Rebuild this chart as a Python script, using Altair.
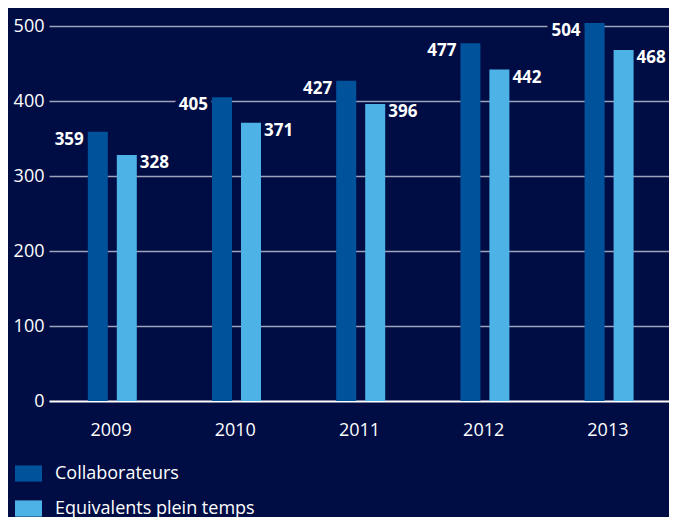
import altair as alt
import pandas as pd

years = ["2009", "2010", "2011", "2012", "2013"]
collaborateurs = [359, 405, 427, 477, 504]
equivalents = [328, 371, 396, 442, 468]
series = ["Collaborateurs", "Equivalents plein temps"]
colors = ["#00529b", "#4db3e6"]

rows = []
for i, yr in enumerate(years):
    rows.append({"annee": yr, "serie": series[0], "valeur": collaborateurs[i]})
    rows.append({"annee": yr, "serie": series[1], "valeur": equivalents[i]})
df = pd.DataFrame(rows)

FONT = "Open Sans"
BG = "#000d45"
GRID = "#9ea2bb"

x = alt.X(
    "annee:N",
    sort=years,
    scale=alt.Scale(range=[-6, 615], paddingInner=0, paddingOuter=0),
    axis=alt.Axis(
        title=None, labelAngle=0, ticks=False, domain=False, labelPadding=20,
        labelFont=FONT, labelFontSize=18, labelColor="white", grid=False,
    ),
)
xoff = alt.XOffset(
    "serie:N", sort=series,
    scale=alt.Scale(range=[38.8, 87.8], paddingInner=0.3103, paddingOuter=0),
)
y = alt.Y(
    "valeur:Q",
    scale=alt.Scale(domain=[0, 500], nice=False),
    axis=alt.Axis(
        title=None, values=[0, 100, 200, 300, 400, 500], ticks=False, domain=False,
        labelFont=FONT, labelFontSize=18, labelColor="white", labelPadding=11,
        grid=True, gridOpacity=1,
        gridColor=alt.condition(alt.datum.value == 0, alt.value("white"), alt.value(GRID)),
        gridWidth=alt.condition(alt.datum.value == 0, alt.value(2.2), alt.value(1.6)),
    ),
)

base = alt.Chart(df)

bars = base.mark_bar().encode(
    x=x, xOffset=xoff, y=y,
    color=alt.Color(
        "serie:N",
        scale=alt.Scale(domain=series, range=colors),
        legend=alt.Legend(
            orient="none", legendX=-40, legendY=434, direction="vertical", title=None,
            symbolType="M-1,-0.6H1V0.6H-1Z", symbolSize=729, symbolStrokeWidth=0,
            symbolOpacity=1, labelFont=FONT, labelFontSize=18, labelColor="white",
            labelOffset=13, rowPadding=12, padding=0, labelLimit=0,
        ),
    ),
)

dark = base.transform_filter(alt.datum.serie == series[0])
light = base.transform_filter(alt.datum.serie == series[1])

halo = dark.mark_text(
    align="right", baseline="middle", dx=-14, dy=8, font=FONT, fontSize=17,
    fontWeight="bold", fill=BG, stroke=BG, strokeWidth=10,
).encode(x=x, xOffset=xoff, y=y, text="valeur:Q")

dark_txt = dark.mark_text(
    align="right", baseline="middle", dx=-14, dy=8, font=FONT, fontSize=17,
    fontWeight="bold", color="white",
).encode(x=x, xOffset=xoff, y=y, text="valeur:Q")

light_txt = light.mark_text(
    align="left", baseline="middle", dx=13, dy=8, font=FONT, fontSize=17,
    fontWeight="bold", color="white",
).encode(x=x, xOffset=xoff, y=y, text="valeur:Q")

chart = (
    alt.layer(halo, bars, dark_txt, light_txt)
    .properties(
        width=614, height=375, autosize="none",
        padding={"left": 47, "top": 18, "right": 0, "bottom": 116},
        background=BG,
    )
    .configure_view(stroke=None)
)

chart.save("out.html", embed_options={"renderer": "svg", "actions": False})
